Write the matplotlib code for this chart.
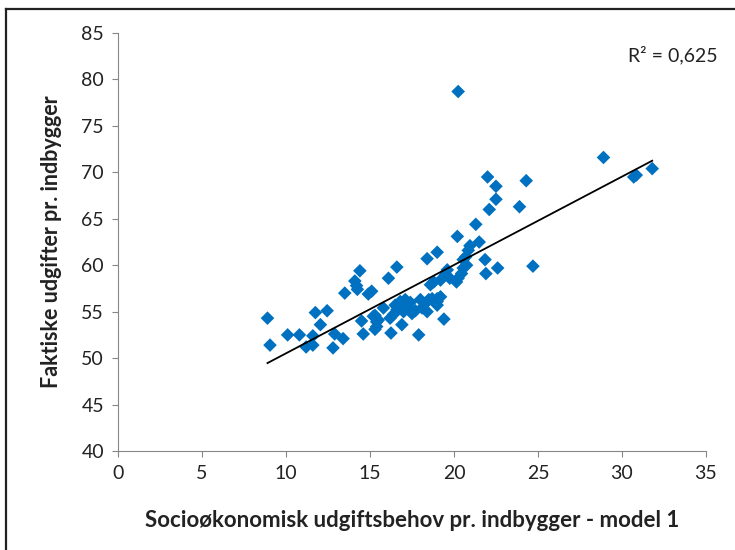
import numpy as np
import matplotlib
matplotlib.use("Agg")
import matplotlib.pyplot as plt
from matplotlib.lines import Line2D

plt.rcParams['font.family'] = ['Lato', 'DejaVu Sans']

# socioeconomic spending need per inhabitant (x) vs actual spending (y)
behov = [8.9, 9.05, 10.1, 10.8, 11.2, 11.6, 11.6, 11.75, 12.05, 12.45,
         12.8, 12.9, 13.4, 13.5, 14.1, 14.2, 14.25, 14.4, 14.5, 14.6,
         14.9, 15.1, 15.2, 15.4, 15.3, 15.8, 16.1, 16.2, 16.25, 16.6,
         16.5, 16.8, 17.1, 17.2, 17.0, 16.9, 16.6, 17.5, 17.9, 18.0,
         18.3, 18.5, 18.7, 19.0, 19.2, 18.6, 18.8, 19.2, 18.1, 18.4,
         19.4, 19.5, 19.6, 18.4, 19.0, 20.2, 21.3, 21.5, 20.95, 20.85,
         20.7, 20.55, 21.85, 22.6, 21.9, 20.55, 20.75, 20.45, 20.25, 20.15,
         19.75, 22.0, 22.5, 22.5, 22.1, 24.3, 23.9, 24.7, 28.9, 30.7,
         30.85, 31.8, 20.25, 15.3, 15.5, 15.4, 17.4, 16.4, 17.7, 19.0,
         19.0]
udgift = [54.3, 51.4, 52.5, 52.5, 51.2, 51.4, 52.4, 54.9, 53.6, 55.1,
          51.1, 52.6, 52.1, 57.0, 58.3, 57.8, 57.4, 59.4, 54.0, 52.6,
          56.9, 57.2, 54.5, 53.9, 53.1, 55.4, 58.6, 54.3, 52.7, 59.8,
          55.7, 56.1, 56.3, 55.5, 55.0, 53.6, 55.2, 54.8, 52.5, 56.3,
          55.9, 56.3, 56.4, 56.1, 56.6, 57.9, 58.2, 58.4, 55.4, 55.0,
          54.2, 59.0, 59.5, 60.7, 61.4, 63.1, 64.4, 62.5, 62.1, 61.6,
          60.9, 60.6, 60.6, 59.7, 59.1, 59.7, 60.0, 59.1, 58.6, 58.2,
          58.6, 69.5, 68.5, 67.1, 66.0, 69.1, 66.3, 59.9, 71.6, 69.5,
          69.7, 70.4, 78.7, 54.6, 54.1, 53.4, 56.0, 54.7, 55.1, 55.7,
          56.4]
r2_text = "R² = 0,625"

x = np.array(behov)
y = np.array(udgift)

fig = plt.figure(figsize=(7.35, 5.5), dpi=100)
ax = fig.add_axes([0.1605, 0.18, 0.80, 0.76])

# frame: only top and left edges show in the picture
fig.lines.append(Line2D([0.0075, 1.0], [0.9830, 0.9830], transform=fig.transFigure,
                        color='#222222', linewidth=1.6))
fig.lines.append(Line2D([0.0075, 0.0075], [0.0, 0.9830], transform=fig.transFigure,
                        color='#222222', linewidth=1.6))

ax.scatter(x, y, marker='D', s=48, color='#0070C0', edgecolors='none', zorder=3)

# linear trend line
k, m = np.polyfit(x, y, 1)
xl = np.array([x.min(), x.max()])
ax.plot(xl, k * xl + m, color='black', linewidth=1.3, zorder=4)

ax.set_xlim(0, 35)
ax.set_ylim(40, 85)
ax.set_xticks(range(0, 36, 5))
ax.set_yticks(range(40, 86, 5))

for s in ['top', 'right']:
    ax.spines[s].set_visible(False)
for s in ['left', 'bottom']:
    ax.spines[s].set_color('#868686')
ax.tick_params(direction='out', length=4, color='#868686', labelsize=14,
               labelcolor='#222222', pad=6)

ax.set_xlabel('Socioøkonomisk udgiftsbehov pr. indbygger - model 1',
              fontsize=16, fontweight='bold', color='#222222', labelpad=20)
ax.set_ylabel('Faktiske udgifter pr. indbygger',
              fontsize=15.5, fontweight='bold', color='#222222', labelpad=14)

ax.text(1.02, 0.947, r2_text, transform=ax.transAxes, ha='right', va='center',
        fontsize=14, color='#222222')

fig.savefig('out.png', dpi=100)
